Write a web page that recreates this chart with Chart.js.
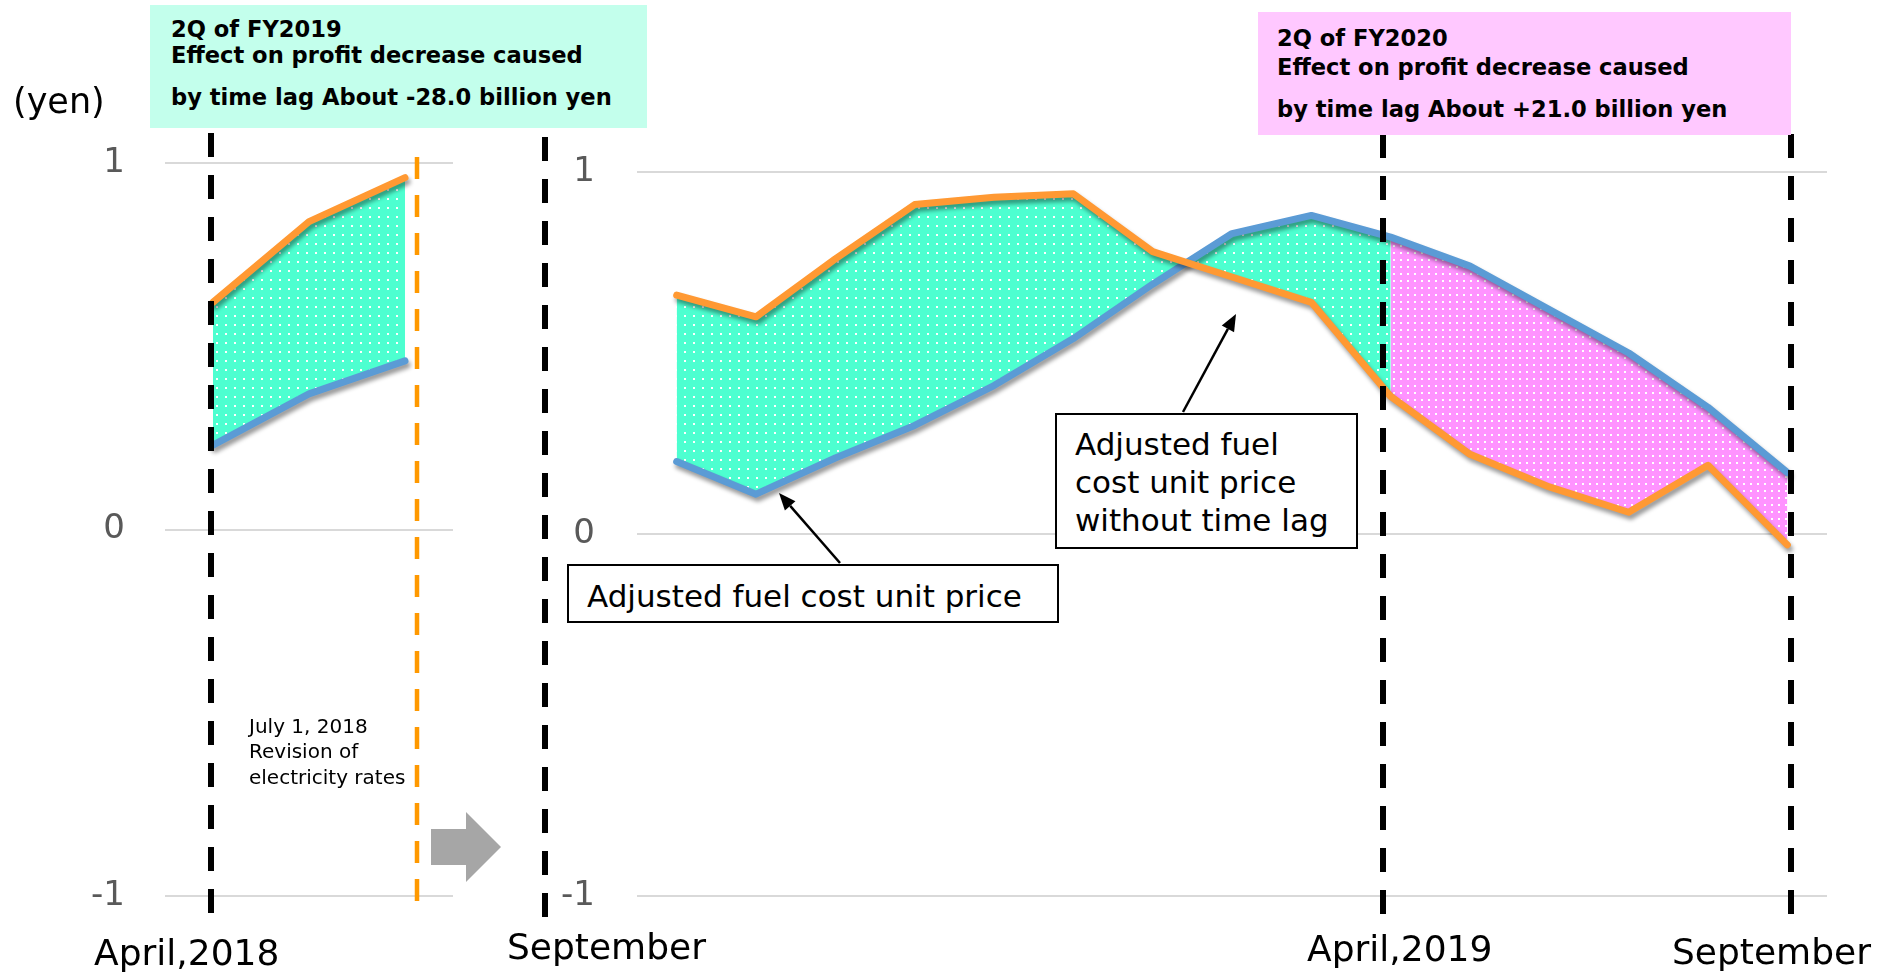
<!DOCTYPE html>
<html>
<head>
<meta charset="utf-8">
<script src="https://cdn.jsdelivr.net/npm/chart.js@4.4.0/dist/chart.umd.min.js"></script>
<style>
  body { margin: 0; width: 1878px; height: 972px; position: relative; overflow: hidden; background: #fff;
         font-family: 'DejaVu Sans', Verdana, sans-serif; }
  canvas { position: absolute; left: 0; top: 0; }
  .t { position: absolute; white-space: nowrap; line-height: 1; color: #000; z-index: 3; }
  .box { position: absolute; z-index: 2; }
  .bold { font-weight: bold; }
</style>
</head>
<body>
<canvas id="leftChart" width="1878" height="972"></canvas>
<canvas id="rightChart" width="1878" height="972"></canvas>

<!-- headline boxes -->
<div class="box" style="left:150px;top:5px;width:497px;height:123px;background:#c3ffec"></div>
<div class="t bold" style="left:171px;top:18px;font-size:22.6px">2Q of FY2019</div>
<div class="t bold" style="left:171px;top:44px;font-size:22.6px">Effect on profit decrease caused</div>
<div class="t bold" style="left:171px;top:86px;font-size:22.6px">by time lag About -28.0 billion yen</div>

<div class="box" style="left:1258px;top:12px;width:533px;height:123px;background:#ffc8ff"></div>
<div class="t bold" style="left:1277px;top:27px;font-size:22.6px">2Q of FY2020</div>
<div class="t bold" style="left:1277px;top:56px;font-size:22.6px">Effect on profit decrease caused</div>
<div class="t bold" style="left:1277px;top:98px;font-size:22.6px">by time lag About +21.0 billion yen</div>

<div class="t" style="left:13px;top:84px;font-size:35px">(yen)</div>

<!-- callouts -->
<div class="box" style="left:567px;top:564px;width:488px;height:55px;border:2px solid #000;background:#fff"></div>
<div class="t" style="left:587px;top:581px;font-size:31px">Adjusted fuel cost unit price</div>

<div class="box" style="left:1055px;top:413px;width:299px;height:132px;border:2px solid #000;background:#fff"></div>
<div class="t" style="left:1075px;top:429px;font-size:31px">Adjusted fuel</div>
<div class="t" style="left:1075px;top:467px;font-size:31px">cost unit price</div>
<div class="t" style="left:1075px;top:505px;font-size:31px">without time lag</div>

<div class="t" style="left:249px;top:716px;font-size:20px">July 1, 2018</div>
<div class="t" style="left:249px;top:741px;font-size:20px">Revision of</div>
<div class="t" style="left:249px;top:767px;font-size:20px">electricity rates</div>

<!-- period labels under the axes -->
<div class="t" style="left:94px;top:935px;font-size:36px">April,2018</div>
<div class="t" style="left:507px;top:929px;font-size:36px">September</div>
<div class="t" style="left:1307px;top:931px;font-size:36px">April,2019</div>
<div class="t" style="left:1672px;top:934px;font-size:36px">September</div>

<script>
// data (yen)
const leftMonths = ['2018-04', '2018-05', '2018-06'];
const leftNoLag = [0.62, 0.84, 0.96];
const leftAdjusted = [0.23, 0.37, 0.46];

const rightMonths = ['2018-07', '2018-08', '2018-09', '2018-10', '2018-11', '2018-12', '2019-01',
  '2019-02', '2019-03', '2019-04', '2019-05', '2019-06', '2019-07', '2019-08', '2019-09'];
const rightNoLag = [0.66, 0.60, 0.76, 0.91, 0.93, 0.94, 0.78, 0.71, 0.64, 0.38, 0.22, 0.13, 0.06, 0.19, -0.03];
const rightAdjusted = [0.20, 0.11, 0.21, 0.30, 0.41, 0.54, 0.69, 0.83, 0.88, 0.82, 0.74, 0.62, 0.50, 0.35, 0.17];
const splitIndex = 9; // April 2019: fill changes from green to pink

const yTicks = [-1, 0, 1];

const ORANGE = '#ff9933';
const BLUE = '#5b9bd5';
const FONT = "'DejaVu Sans', Verdana, sans-serif";

// dotted fill like the office "dotted" pattern
function dots(ctx, bg, size) {
  const c = document.createElement('canvas');
  c.width = size; c.height = size;
  const g = c.getContext('2d');
  g.fillStyle = bg;
  g.fillRect(0, 0, size, size);
  g.fillStyle = '#ffffff';
  g.fillRect(0, 0, 2, 2);
  return ctx.createPattern(c, 'repeat');
}

const upTo = (arr, end) => arr.map((v, i) => i <= end ? v : null);
const fromIdx = (arr, start) => arr.map((v, i) => i >= start ? v : null);

// soft shadow under the two price lines
const shadowPlugin = {
  id: 'shadow',
  beforeDatasetDraw(chart, args) {
    const ds = chart.data.datasets[args.index];
    if (!ds.shadow) return;
    const ctx = chart.ctx;
    ctx.save();
    ctx.shadowColor = 'rgba(0,0,0,0.4)';
    ctx.shadowBlur = 4;
    ctx.shadowOffsetX = 2;
    ctx.shadowOffsetY = 4;
  },
  afterDatasetDraw(chart, args) {
    if (chart.data.datasets[args.index].shadow) chart.ctx.restore();
  }
};

function dashLine(ctx, x, y1, y2, color, w, dash) {
  ctx.save();
  ctx.strokeStyle = color;
  ctx.lineWidth = w;
  ctx.setLineDash(dash);
  ctx.beginPath();
  ctx.moveTo(x, y1);
  ctx.lineTo(x, y2);
  ctx.stroke();
  ctx.restore();
}

function arrow(ctx, x1, y1, x2, y2) {
  const a = Math.atan2(y2 - y1, x2 - x1);
  const len = 17, half = 7;
  const bx = x2 - len * Math.cos(a), by = y2 - len * Math.sin(a);
  ctx.save();
  ctx.strokeStyle = '#000';
  ctx.fillStyle = '#000';
  ctx.lineWidth = 2.5;
  ctx.beginPath();
  ctx.moveTo(x1, y1);
  ctx.lineTo(bx, by);
  ctx.stroke();
  ctx.beginPath();
  ctx.moveTo(x2, y2);
  ctx.lineTo(bx + half * Math.sin(a), by - half * Math.cos(a));
  ctx.lineTo(bx - half * Math.sin(a), by + half * Math.cos(a));
  ctx.closePath();
  ctx.fill();
  ctx.restore();
}

const leftMarks = {
  id: 'leftMarks',
  afterDatasetsDraw(chart) {
    const ctx = chart.ctx;
    const x = chart.scales.x;
    dashLine(ctx, x.getPixelForValue(0) - 2, 133, 923, '#000', 6, [24, 18]);
    dashLine(ctx, 417, 157, 902, '#ff9900', 4.5, [22, 16]);
    dashLine(ctx, 545, 137, 927, '#000', 6, [24, 18]);
    // grey arrow between the two panels
    ctx.save();
    ctx.fillStyle = '#a6a6a6';
    ctx.beginPath();
    ctx.moveTo(431, 829); ctx.lineTo(466, 829); ctx.lineTo(466, 812); ctx.lineTo(501, 847);
    ctx.lineTo(466, 882); ctx.lineTo(466, 865); ctx.lineTo(431, 865);
    ctx.closePath();
    ctx.fill();
    ctx.restore();
  }
};

const rightMarks = {
  id: 'rightMarks',
  afterDatasetsDraw(chart) {
    const ctx = chart.ctx;
    dashLine(ctx, 1383, 134, 923, '#000', 6, [24, 18]);
    dashLine(ctx, 1791, 134, 923, '#000', 6, [24, 18]);
    arrow(ctx, 840, 563, 779, 493);
    arrow(ctx, 1183, 412, 1236, 314);
  }
};

function yScale(padTick, width) {
  return {
    min: -1, max: 1,
    afterFit: s => { s.width = width; },
    afterBuildTicks: s => { s.ticks = yTicks.map(v => ({ value: v })); },
    border: { display: false },
    grid: { color: '#d9d9d9', lineWidth: 2, drawTicks: false },
    ticks: { padding: padTick, color: '#595959', font: { family: FONT, size: 34 } }
  };
}

function lineSet(data, color) {
  return { data: data, borderColor: color, borderWidth: 7, fill: false, pointRadius: 0,
           borderCapStyle: 'round', borderJoinStyle: 'round', shadow: true };
}

function fillSet(data, target, bg) {
  return { data: data, borderColor: 'rgba(0,0,0,0)', borderWidth: 1, pointRadius: 0,
           fill: target === null ? false : { target: target }, backgroundColor: bg };
}

const common = {
  responsive: false,
  animation: false,
  plugins: { legend: { display: false }, tooltip: { enabled: false } }
};

const lctx = document.getElementById('leftChart').getContext('2d');
new Chart(lctx, {
  type: 'line',
  data: {
    labels: leftMonths,
    datasets: [
      lineSet(leftNoLag, ORANGE),
      lineSet(leftAdjusted, BLUE),
      fillSet(leftNoLag, 3, dots(lctx, '#4dffd0', 9)),
      fillSet(leftAdjusted, null, 'transparent')
    ]
  },
  options: Object.assign({}, common, {
    layout: { padding: { left: 0, right: 1425, top: 163, bottom: 76 } },
    scales: {
      x: { display: false, offset: true },
      y: yScale(40, 165)
    }
  }),
  plugins: [shadowPlugin, leftMarks]
});

const rctx = document.getElementById('rightChart').getContext('2d');
new Chart(rctx, {
  type: 'line',
  data: {
    labels: rightMonths,
    datasets: [
      lineSet(rightNoLag, ORANGE),
      lineSet(rightAdjusted, BLUE),
      fillSet(upTo(rightNoLag, splitIndex), 3, dots(rctx, '#4dffd0', 9)),
      fillSet(upTo(rightAdjusted, splitIndex), null, 'transparent'),
      fillSet(fromIdx(rightAdjusted, splitIndex), 5, dots(rctx, '#ff93ff', 7)),
      fillSet(fromIdx(rightNoLag, splitIndex), null, 'transparent')
    ]
  },
  options: Object.assign({}, common, {
    layout: { padding: { left: 500, right: 51, top: 172, bottom: 76 } },
    scales: {
      x: { display: false, offset: true },
      y: yScale(42, 137)
    }
  }),
  plugins: [shadowPlugin, rightMarks]
});
</script>
</body>
</html>
